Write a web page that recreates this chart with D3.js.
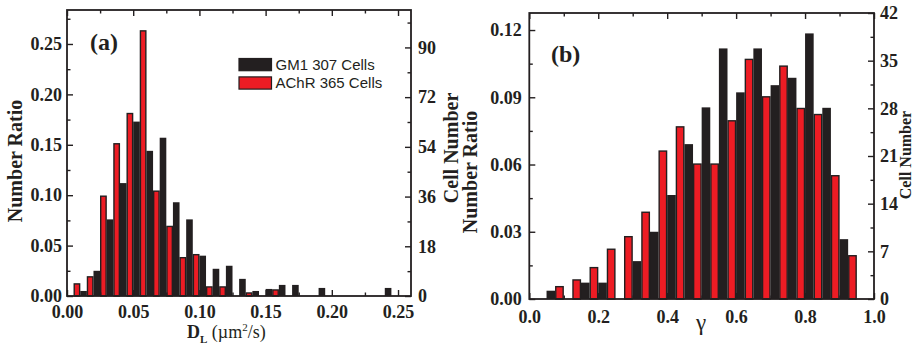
<!DOCTYPE html>
<html><head><meta charset="utf-8">
<script src="https://cdn.jsdelivr.net/npm/d3@7"></script>
<style>
body{margin:0;background:#fff}
svg{display:block}
</style>
</head><body>
<svg id="chart" width="914" height="350"></svg>
<script>
// ---------- DATA ----------
// Panel (a): diffusion coefficient histogram (bin centres, µm²/s)
const binsA = [0.01,0.02,0.03,0.04,0.05,0.06,0.07,0.08,0.09,0.10,0.11,0.12,0.13,0.14,0.15,0.16,0.17,0.18,0.19,0.20,0.21,0.22,0.23,0.24,0.25];
const gm1A  = [0.005,0.025,0.076,0.112,0.173,0.144,0.157,0.093,0.076,0.040,0.027,0.030,0.017,0.005,0.007,0.011,0.011,0,0.008,0,0,0,0,0.008,0];
const achrA = [0.012,0.019,0.099,0.151,0.181,0.263,0.104,0.069,0.038,0.041,0.009,0.009,0,0.003,0,0.006,0,0,0,0,0,0,0,0,0];
const xTicksA = [0,0.05,0.10,0.15,0.20,0.25];
const yTicksA = [0,0.05,0.10,0.15,0.20,0.25];
const yRightTicksA = [0,18,36,54,72,90];

// Panel (b): gamma histogram (bin centres)
const binsB = [0.075,0.125,0.175,0.225,0.275,0.325,0.375,0.425,0.475,0.525,0.575,0.625,0.675,0.725,0.775,0.825,0.875,0.925];
const gm1B  = [0.0037,0,0.0073,0.0073,0,0.0169,0.030,0.0464,0.0691,0.0855,0.1118,0.0922,0.1118,0.0954,0.0987,0.1185,0.0853,0.0267];
const achrB = [0.0055,0.0085,0.014,0.0222,0.0278,0.0387,0.066,0.0768,0.0602,0.0602,0.0795,0.1069,0.0902,0.1039,0.085,0.0823,0.055,0.0193];
const xTicksB = [0,0.2,0.4,0.6,0.8,1.0];
const yTicksB = [0,0.03,0.06,0.09,0.12];
const yRightTicksB = [0,7,14,21,28,35,42];

const legendLabels = ["GM1 307 Cells","AChR 365 Cells"];

// ---------- STYLE ----------
const INK = "#231f20", RED = "#ed1c24";
const SERIF = "'Liberation Serif','Times New Roman',serif";
const SANS = "'Liberation Sans',Arial,sans-serif";

const svg = d3.select("#chart");

function panel(o){
  const g = svg.append("g");
  const x = d3.scaleLinear().domain(o.xDom).range([o.L, o.R]);
  const y = d3.scaleLinear().domain([0, o.yMax]).range([o.B, o.T]);
  const yR = d3.scaleLinear().domain([0, o.yRMax]).range([o.B, o.T]);

  // bars: black first, then red on top
  const hw = o.halfW;
  g.append("g").selectAll("rect").data(o.bins.map((c,i)=>({c, v:o.black[i]})).filter(d=>d.v>0))
    .join("rect")
    .attr("x", d => x(d.c + o.blackOff*hw) )
    .attr("width", d => x(d.c + (o.blackOff+1)*hw) - x(d.c + o.blackOff*hw))
    .attr("y", d => y(d.v))
    .attr("height", d => o.B - y(d.v))
    .attr("fill", INK);
  g.append("g").selectAll("rect").data(o.bins.map((c,i)=>({c, v:o.red[i]})).filter(d=>d.v>0))
    .join("rect")
    .attr("x", d => x(d.c + o.redOff*hw) + 0.6)
    .attr("width", d => x(d.c + (o.redOff+1)*hw) - x(d.c + o.redOff*hw) - 1.2)
    .attr("y", d => y(d.v))
    .attr("height", d => o.B - y(d.v))
    .attr("fill", RED).attr("stroke", INK).attr("stroke-width", 1.4);

  function styleAxis(sel, show){
    sel.select(".domain").remove();
    sel.selectAll("line").attr("stroke", INK).attr("stroke-width", 1.4);
    sel.selectAll("text").attr("font-family", SERIF).attr("font-weight","bold")
      .attr("font-size", 18).attr("fill", INK);
    if(!show) sel.selectAll("text").remove();
  }
  const fmtX = o.fmtX, fmtY = o.fmtY;
  // bottom
  g.append("g").attr("transform",`translate(0,${o.B})`)
    .call(d3.axisBottom(x).tickValues(o.xTicks).tickSizeInner(-6).tickSizeOuter(0).tickPadding(o.padB).tickFormat(fmtX))
    .call(s=>styleAxis(s,true));
  g.append("g").attr("transform",`translate(0,${o.B})`)
    .call(d3.axisBottom(x).tickValues(o.xMinor).tickSizeInner(-3.5).tickSizeOuter(0).tickFormat(""))
    .call(s=>styleAxis(s,false));
  // top
  g.append("g").attr("transform",`translate(0,${o.T})`)
    .call(d3.axisTop(x).tickValues(o.xTicks).tickSizeInner(-6).tickSizeOuter(0).tickFormat(""))
    .call(s=>styleAxis(s,false));
  g.append("g").attr("transform",`translate(0,${o.T})`)
    .call(d3.axisTop(x).tickValues(o.xMinor).tickSizeInner(-3.5).tickSizeOuter(0).tickFormat(""))
    .call(s=>styleAxis(s,false));
  // left
  g.append("g").attr("transform",`translate(${o.L},0)`)
    .call(d3.axisLeft(y).tickValues(o.yTicks).tickSizeInner(-6).tickSizeOuter(0).tickPadding(o.padL).tickFormat(fmtY))
    .call(s=>styleAxis(s,true));
  g.append("g").attr("transform",`translate(${o.L},0)`)
    .call(d3.axisLeft(y).tickValues(o.yMinor).tickSizeInner(-3.5).tickSizeOuter(0).tickFormat(""))
    .call(s=>styleAxis(s,false));
  // right
  g.append("g").attr("transform",`translate(${o.R},0)`)
    .call(d3.axisRight(yR).tickValues(o.yRTicks).tickSizeInner(-6).tickSizeOuter(0).tickPadding(o.padR).tickFormat(d3.format("d")))
    .call(s=>styleAxis(s,true));
  g.append("g").attr("transform",`translate(${o.R},0)`)
    .call(d3.axisRight(yR).tickValues(o.yRMinor).tickSizeInner(-3.5).tickSizeOuter(0).tickFormat(""))
    .call(s=>styleAxis(s,false));

  // frame
  g.append("rect").attr("x",o.L).attr("y",o.T).attr("width",o.R-o.L).attr("height",o.B-o.T)
    .attr("fill","none").attr("stroke",INK).attr("stroke-width",1.8);
  return {g,x,y};
}

// minor tick values derived from major ticks (midpoints)
function mids(arr, extra){
  const out=[]; for(let i=0;i<arr.length-1;i++) out.push((arr[i]+arr[i+1])/2);
  if(extra!==undefined) out.push(extra);
  return out;
}

// Panel (a)
const A = panel({
  L:67, R:411, T:10, B:296,
  xDom:[0, 0.2598], yMax:0.2837, yRMax:0.2837*365,
  bins:binsA, black:gm1A, red:achrA, halfW:0.005, redOff:-1, blackOff:0,
  xTicks:xTicksA, xMinor:mids(xTicksA),
  yTicks:yTicksA, yMinor:mids(yTicksA, 0.275),
  yRTicks:yRightTicksA, yRMinor:mids(yRightTicksA, 99),
  fmtX:d3.format(".2f"), fmtY:d3.format(".2f"),
  padB:9, padL:5, padR:7
});

// Panel (b)
const B = panel({
  L:529.3, R:874, T:13, B:299,
  xDom:[0, 1], yMax:0.1276, yRMax:42,
  bins:binsB, black:gm1B, red:achrB, halfW:0.025, redOff:0, blackOff:-1,
  xTicks:xTicksB, xMinor:mids(xTicksB),
  yTicks:yTicksB, yMinor:mids(yTicksB),
  yRTicks:yRightTicksB, yRMinor:mids(yRightTicksB),
  fmtX:d3.format(".1f"), fmtY:d3.format(".2f"),
  padB:11, padL:7.5, padR:6
});

// ---------- TEXT ----------
function rotText(xb, yc, str, fs){
  svg.append("text").attr("transform",`translate(${xb},${yc}) rotate(-90)`)
    .attr("text-anchor","middle").attr("font-family",SERIF).attr("font-weight","bold")
    .attr("font-size",fs || 20).attr("fill",INK).text(str);
}
rotText(22, 161, "Number Ratio");
rotText(458, 148, "Cell Number");
rotText(477, 172, "Number Ratio");
rotText(910.5, 155, "Cell Number", 16);

// panel labels
svg.append("text").attr("x",90).attr("y",50).attr("font-family",SERIF).attr("font-weight","bold")
  .attr("font-size",24).attr("fill",INK).text("(a)");
svg.append("text").attr("x",551).attr("y",62).attr("font-family",SERIF).attr("font-weight","bold")
  .attr("font-size",24).attr("fill",INK).text("(b)");

// x-axis titles
const xt = svg.append("text").attr("x",187).attr("y",338).attr("font-family",SERIF)
  .attr("font-size",18).attr("fill",INK);
xt.append("tspan").attr("font-weight","bold").text("D");
xt.append("tspan").attr("font-size",11).attr("font-weight","bold").attr("dy",5).text("L");
xt.append("tspan").attr("dy",-5).text(" (\u00b5m");
xt.append("tspan").attr("font-size",11).attr("dy",-7).text("2");
xt.append("tspan").attr("dy",7).text("/s)");

svg.append("text").attr("x",701).attr("y",330).attr("text-anchor","middle")
  .attr("font-family",SERIF).attr("font-size",23).attr("fill",INK).text("\u03b3");

// legend
const leg = svg.append("g");
[INK, RED].forEach((col,i)=>{
  leg.append("rect").attr("x",239).attr("y",58.5+i*18.4).attr("width",32.5).attr("height",12.2)
    .attr("fill",col).attr("stroke",INK).attr("stroke-width",1.2);
  leg.append("text").attr("x",275.5).attr("y",70+i*18.4).attr("font-family",SANS)
    .attr("font-size",15).attr("fill",INK).text(legendLabels[i]);
});
</script>
</body></html>
